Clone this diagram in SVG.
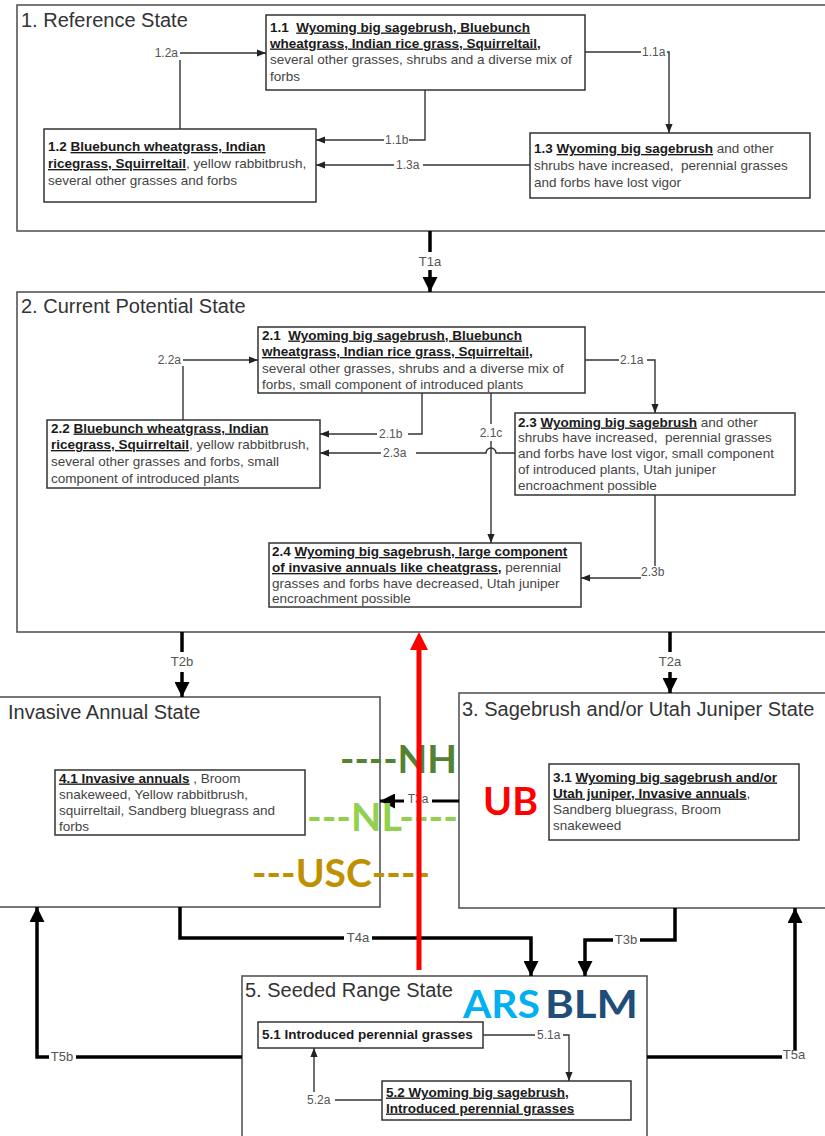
<svg xmlns="http://www.w3.org/2000/svg" width="825" height="1136" viewBox="0 0 825 1136">
<defs>
<marker id="ah" viewBox="0 0 10 10" refX="10" refY="5" markerWidth="9" markerHeight="9" markerUnits="userSpaceOnUse" orient="auto"><path d="M0,1 L10,5 L0,9 z" fill="#222"/></marker>
<marker id="AH" viewBox="0 0 10 10" refX="10" refY="5" markerWidth="15" markerHeight="15" markerUnits="userSpaceOnUse" orient="auto"><path d="M0,0 L10,5 L0,10 z" fill="#000"/></marker>
</defs>
<style>
.sec{fill:#fff;stroke:#555;stroke-width:1.6}
.box{fill:#fff;stroke:#333;stroke-width:1.5}
.title{font-family:"Liberation Sans",Arial,sans-serif;font-size:20px;fill:#333}
.t{font-family:"Liberation Sans",Arial,sans-serif;font-size:13.5px;fill:#444}
.b{font-weight:bold;fill:#1a1a1a}
.u{text-decoration:underline}
.lbl{font-family:"Liberation Sans",Arial,sans-serif;font-size:12px;fill:#555}
.tl{font-family:"Liberation Sans",Arial,sans-serif;font-size:13px;fill:#555;text-anchor:middle}
.thin{fill:none;stroke:#333;stroke-width:1.4}
.thick{fill:none;stroke:#000;stroke-width:3.5}
.big{font-family:Lato,"Open Sans",sans-serif;font-weight:bold;font-size:39px}
</style>

<g id="state1">
<rect class="sec" x="17" y="5" width="830" height="226"/>
<text class="title" x="21" y="26.5">1. Reference State</text>
</g>
<g id="box1_1">
<rect class="box" x="266" y="15" width="319" height="75"/>
<text class="t" x="270" y="31.5"><tspan class="b">1.1&#160; </tspan><tspan class="b u">Wyoming big sagebrush, Bluebunch</tspan></text>
<text class="t" x="270" y="47.5"><tspan class="b u">wheatgrass, Indian rice grass, Squirreltail</tspan><tspan class="b">,</tspan></text>
<text class="t" x="270" y="64">several other grasses, shrubs and a diverse mix of</text>
<text class="t" x="270" y="80.5">forbs</text>
</g>
<g id="box1_2">
<rect class="box" x="44" y="129" width="272" height="73"/>
<text class="t" x="48" y="151"><tspan class="b">1.2 </tspan><tspan class="b u">Bluebunch wheatgrass, Indian</tspan></text>
<text class="t" x="48" y="168"><tspan class="b u">ricegrass, Squirreltail</tspan>, yellow rabbitbrush,</text>
<text class="t" x="48" y="185">several other grasses and forbs</text>
</g>
<g id="box1_3">
<rect class="box" x="530" y="133" width="280" height="65"/>
<text class="t" x="534" y="153"><tspan class="b">1.3 </tspan><tspan class="b u">Wyoming big sagebrush</tspan> and other</text>
<text class="t" x="534" y="170">shrubs have increased,&#160; perennial grasses</text>
<text class="t" x="534" y="187">and forbs have lost vigor</text>
</g>

<g id="state2">
<rect class="sec" x="17" y="292" width="830" height="340"/>
<text class="title" x="21" y="313">2. Current Potential State</text>
</g>
<g id="box2_1">
<rect class="box" x="258" y="327" width="327" height="66"/>
<text class="t" x="262" y="339.5"><tspan class="b">2.1&#160; </tspan><tspan class="b u">Wyoming big sagebrush, Bluebunch</tspan></text>
<text class="t" x="262" y="356"><tspan class="b u">wheatgrass, Indian rice grass, Squirreltail</tspan><tspan class="b">,</tspan></text>
<text class="t" x="262" y="372.5">several other grasses, shrubs and a diverse mix of</text>
<text class="t" x="262" y="388.5">forbs, small component of introduced plants</text>
</g>
<g id="box2_2">
<rect class="box" x="47" y="420" width="273" height="68"/>
<text class="t" x="51" y="432.5"><tspan class="b">2.2 </tspan><tspan class="b u">Bluebunch wheatgrass, Indian</tspan></text>
<text class="t" x="51" y="449"><tspan class="b u">ricegrass, Squirreltail</tspan>, yellow rabbitbrush,</text>
<text class="t" x="51" y="466">several other grasses and forbs, small</text>
<text class="t" x="51" y="482.5">component of introduced plants</text>
</g>
<g id="box2_3">
<rect class="box" x="515" y="413" width="280" height="82"/>
<text class="t" x="518" y="426.5"><tspan class="b">2.3 </tspan><tspan class="b u">Wyoming big sagebrush</tspan> and other</text>
<text class="t" x="518" y="442">shrubs have increased,&#160; perennial grasses</text>
<text class="t" x="518" y="458">and forbs have lost vigor, small component</text>
<text class="t" x="518" y="474">of introduced plants, Utah juniper</text>
<text class="t" x="518" y="490">encroachment possible</text>
</g>
<g id="box2_4">
<rect class="box" x="269" y="543" width="312" height="64"/>
<text class="t" x="272" y="556"><tspan class="b">2.4 </tspan><tspan class="b u">Wyoming big sagebrush, large component</tspan></text>
<text class="t" x="272" y="572"><tspan class="b u">of invasive annuals like cheatgrass,</tspan> perennial</text>
<text class="t" x="272" y="587.5">grasses and forbs have decreased, Utah juniper</text>
<text class="t" x="272" y="603">encroachment possible</text>
</g>

<g id="state4">
<rect class="sec" x="-5" y="697" width="385" height="210"/>
<text class="title" x="8" y="719">Invasive Annual State</text>
</g>
<g id="box4_1">
<rect class="box" x="55" y="770" width="250" height="65"/>
<text class="t" x="59" y="782.5"><tspan class="b u">4.1 Invasive annuals</tspan> , Broom</text>
<text class="t" x="59" y="798.5">snakeweed, Yellow rabbitbrush,</text>
<text class="t" x="59" y="814.5">squirreltail, Sandberg bluegrass and</text>
<text class="t" x="59" y="830.5">forbs</text>
</g>

<g id="state3">
<rect class="sec" x="459" y="693" width="380" height="215"/>
<text class="title" x="462" y="716">3. Sagebrush and/or Utah Juniper State</text>
</g>
<g id="box3_1">
<rect class="box" x="549" y="764" width="250" height="76"/>
<text class="t" x="553" y="781.5"><tspan class="b">3.1 </tspan><tspan class="b u">Wyoming big sagebrush and/or</tspan></text>
<text class="t" x="553" y="797.5"><tspan class="b u">Utah juniper, Invasive annuals</tspan>,</text>
<text class="t" x="553" y="813.5">Sandberg bluegrass, Broom</text>
<text class="t" x="553" y="829.5">snakeweed</text>
</g>

<g id="state5">
<rect class="sec" x="242" y="976" width="405" height="170"/>
<text class="title" x="245" y="997">5. Seeded Range State</text>
</g>
<g id="box5_1">
<rect class="box" x="258" y="1022" width="225" height="26"/>
<text class="t b" x="262" y="1039">5.1 Introduced perennial grasses</text>
</g>
<g id="box5_2">
<rect class="box" x="382" y="1081" width="249" height="39"/>
<text class="t" x="386" y="1096.5"><tspan class="b u">5.2 Wyoming big sagebrush,</tspan></text>
<text class="t" x="386" y="1112.5"><tspan class="b u">Introduced perennial grasses</tspan></text>
</g>

<g id="connectors">
<path class="thin" d="M180,53 H266" marker-end="url(#ah)"/>
<path class="thin" d="M180,60 V129"/>
<text class="lbl" x="178" y="57" text-anchor="end">1.2a</text>
<path class="thin" d="M425,90 V140 H409"/>
<path class="thin" d="M384,140 H316" marker-end="url(#ah)"/>
<text class="lbl" x="385" y="144">1.1b</text>
<path class="thin" d="M530,165 H423"/>
<path class="thin" d="M394,165 H316" marker-end="url(#ah)"/>
<text class="lbl" x="396" y="169">1.3a</text>
<path class="thin" d="M585,52 H641"/>
<path class="thin" d="M667,52 H669 V133" marker-end="url(#ah)"/>
<text class="lbl" x="642" y="56">1.1a</text>
<path class="thin" d="M183,360 H258" marker-end="url(#ah)"/>
<path class="thin" d="M183,366 V420"/>
<text class="lbl" x="181" y="364" text-anchor="end">2.2a</text>
<path class="thin" d="M422,393 V434 H408"/>
<path class="thin" d="M377,434 H320" marker-end="url(#ah)"/>
<text class="lbl" x="379" y="438">2.1b</text>
<path class="thin" d="M515,453 H496 A5,5 0 0 0 486,453 H416"/>
<path class="thin" d="M381,453 H320" marker-end="url(#ah)"/>
<text class="lbl" x="383" y="457">2.3a</text>
<path class="thin" d="M491,393 V424"/>
<path class="thin" d="M491,441 V543" marker-end="url(#ah)"/>
<text class="lbl" x="491" y="437" text-anchor="middle">2.1c</text>
<path class="thin" d="M585,360 H619"/>
<path class="thin" d="M647,360 H655 V413" marker-end="url(#ah)"/>
<text class="lbl" x="620" y="364">2.1a</text>
<path class="thin" d="M655,495 V566"/>
<path class="thin" d="M641,578 H581" marker-end="url(#ah)"/>
<text class="lbl" x="641" y="576">2.3b</text>
<path class="thin" d="M483,1035 H535"/>
<path class="thin" d="M563,1035 H569 V1081" marker-end="url(#ah)"/>
<text class="lbl" x="537" y="1039">5.1a</text>
<path class="thin" d="M382,1100 H335"/>
<path class="thin" d="M314,1092 V1048" marker-end="url(#ah)"/>
<text class="lbl" x="307" y="1104">5.2a</text>
<path class="thick" d="M430,231 V252"/>
<path class="thick" d="M430,270 V292" marker-end="url(#AH)"/>
<text class="tl" x="430" y="266">T1a</text>
<path class="thick" d="M182,632 V652"/>
<path class="thick" d="M182,672 V697" marker-end="url(#AH)"/>
<text class="tl" x="182" y="666">T2b</text>
<path class="thick" d="M670,632 V652"/>
<path class="thick" d="M670,672 V693" marker-end="url(#AH)"/>
<text class="tl" x="670" y="666">T2a</text>
<path class="thick" d="M459,801 H432" style="stroke-width:3"/>
<path class="thick" d="M404,801 H380" style="stroke-width:3" marker-end="url(#AH)"/>
<text class="tl" x="418" y="803" style="font-size:12px">T3a</text>
<path class="thick" d="M180,907 V938 H344"/>
<path class="thick" d="M372,938 H531 V976" marker-end="url(#AH)"/>
<text class="tl" x="358" y="942">T4a</text>
<path class="thick" d="M675,908 V940 H640"/>
<path class="thick" d="M613,940 H585 V976" marker-end="url(#AH)"/>
<text class="tl" x="626" y="944">T3b</text>
<path class="thick" d="M242,1057 H76"/>
<path class="thick" d="M49,1057 H37 V907" marker-end="url(#AH)"/>
<text class="tl" x="62" y="1061">T5b</text>
<path class="thick" d="M647,1057 H782"/>
<path class="thick" d="M795,1050 V908" marker-end="url(#AH)"/>
<text class="tl" x="794" y="1059">T5a</text>
</g>

<g id="overlay">
<text class="big" x="340" y="773" fill="#548235" textLength="117" lengthAdjust="spacingAndGlyphs">----NH</text>
<text class="big" x="307" y="831" fill="#92D050" textLength="151" lengthAdjust="spacingAndGlyphs">---NL----</text>
<text class="big" x="252" y="887" fill="#BF9000" textLength="178" lengthAdjust="spacingAndGlyphs">---USC----</text>
<text class="big" x="483" y="815" fill="#FF0000" textLength="55" lengthAdjust="spacingAndGlyphs">UB</text>
<text class="big" x="463" y="1018" fill="#00B0F0" textLength="77" lengthAdjust="spacingAndGlyphs">ARS</text>
<text class="big" x="545" y="1018" fill="#1F4E79" textLength="93" lengthAdjust="spacingAndGlyphs">BLM</text>
<line x1="419" y1="970" x2="419" y2="646" stroke="#FF0000" stroke-width="5"/>
<polygon points="410,650 419,632 428,650" fill="#FF0000"/>
</g>
</svg>
